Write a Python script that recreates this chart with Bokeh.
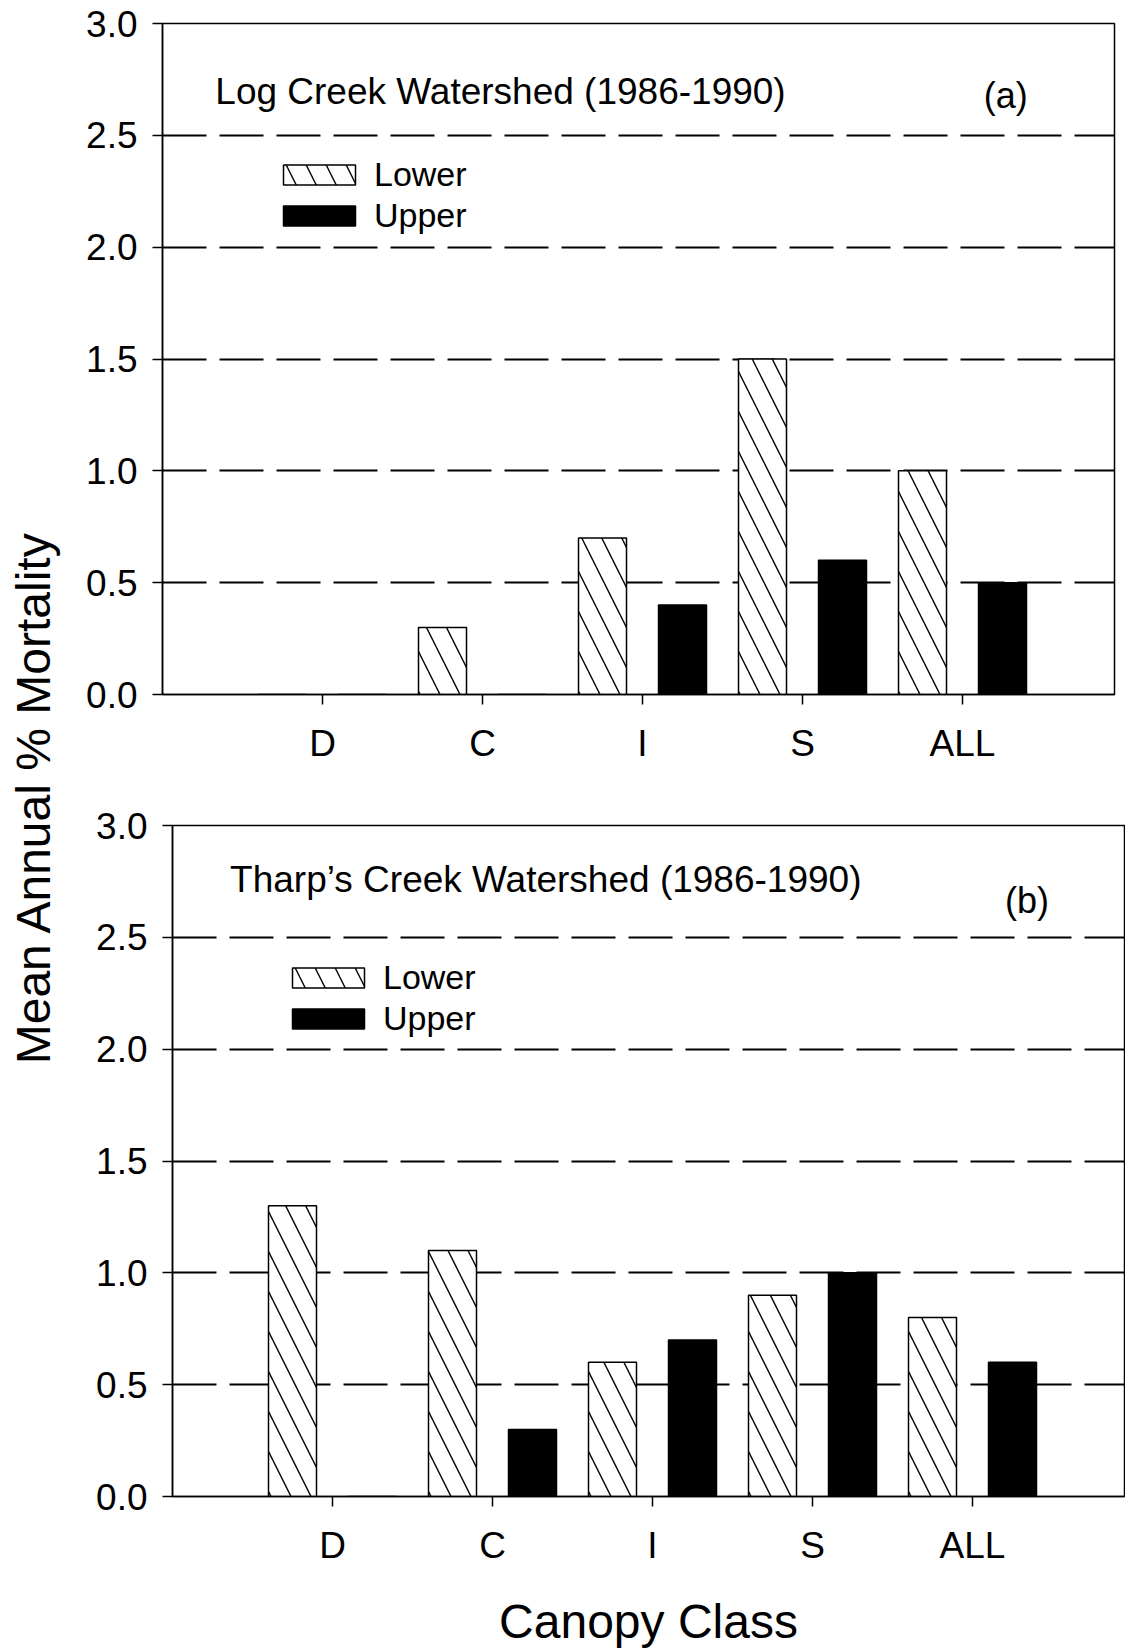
from math import pi
from bokeh.plotting import figure
from bokeh.layouts import row, column
from bokeh.models import (Range1d, FixedTicker, NumeralTickFormatter, Label,
                          Legend, LegendItem, ColumnDataSource)
from bokeh.embed import file_html
from bokeh.resources import INLINE

# ---------------- data ----------------
categories = ["D", "C", "I", "S", "ALL"]
log_lower = [0.0, 0.3, 0.7, 1.5, 1.0]
log_upper = [0.0, 0.0, 0.4, 0.6, 0.5]
tharp_lower = [1.3, 1.1, 0.6, 0.9, 0.8]
tharp_upper = [0.0, 0.3, 0.7, 1.0, 0.6]
y_ticks = [0.0, 0.5, 1.0, 1.5, 2.0, 2.5, 3.0]
series_names = ["Lower", "Upper"]
panel_titles = ["Log Creek Watershed (1986-1990)", "Tharp\u2019s Creek Watershed (1986-1990)"]
panel_tags = ["(a)", "(b)"]
y_label = "Mean Annual % Mortality"
x_label = "Canopy Class"

FONT = "Liberation Sans"
positions = list(range(1, len(categories) + 1))
OFFSET = 0.25
BAR_W = 0.3


def make_panel(lower, upper, title, tag, border_left, border_right, border_top,
               border_bottom, title_xy, tag_xy, legend_loc):
    p = figure(frame_width=952, frame_height=671,
               x_range=Range1d(0, 5.95), y_range=Range1d(0, 3),
               output_backend="svg", toolbar_location=None,
               min_border_left=border_left, min_border_right=border_right,
               min_border_top=border_top, min_border_bottom=border_bottom,
               background_fill_color="white", border_fill_color="white")
    p.frame_align = False
    src = ColumnDataSource(dict(
        xl=[x - OFFSET for x in positions],
        xu=[x + OFFSET for x in positions],
        lower=lower, upper=upper))
    r1 = p.vbar(x="xl", top="lower", width=BAR_W, source=src,
                fill_color="white", line_color="black", line_width=1.5,
                hatch_pattern="\\", hatch_color="black", hatch_scale=40,
                hatch_weight=1.4)
    r2 = p.vbar(x="xu", top="upper", width=BAR_W, source=src,
                fill_color="black", line_color="black", line_width=1.5)

    # axes
    p.yaxis.ticker = FixedTicker(ticks=y_ticks)
    p.yaxis.formatter = NumeralTickFormatter(format="0.0")
    p.xaxis.ticker = FixedTicker(ticks=positions)
    p.xaxis.major_label_overrides = {x: c for x, c in zip(positions, categories)}
    for ax in (p.xaxis, p.yaxis):
        ax.axis_line_color = "black"
        ax.axis_line_width = 1.5
        ax.major_tick_line_color = "black"
        ax.major_tick_line_width = 1.5
        ax.major_tick_out = 10
        ax.major_tick_in = 0
        ax.minor_tick_line_color = None
        ax.major_label_text_font = FONT
        ax.major_label_text_font_size = "37px"
        ax.major_label_text_color = "black"
    p.yaxis.major_label_standoff = 15
    p.xaxis.major_label_standoff = 18

    # grid
    p.xgrid.visible = False
    p.ygrid.grid_line_color = "black"
    p.ygrid.grid_line_width = 2
    p.ygrid.grid_line_dash = "44 13"

    p.outline_line_color = "black"
    p.outline_line_width = 1.5

    legend = Legend(items=[LegendItem(label=series_names[0], renderers=[r1]),
                           LegendItem(label=series_names[1], renderers=[r2])],
                    location=legend_loc, glyph_width=90, glyph_height=25,
                    label_standoff=10, spacing=2, padding=0, margin=0,
                    border_line_color=None, background_fill_alpha=0,
                    label_text_font=FONT, label_text_font_size="34px",
                    label_text_color="black", label_height=20)
    p.add_layout(legend)

    p.add_layout(Label(x=title_xy[0], y=title_xy[1], text=title, text_font=FONT,
                       text_font_size="37px", text_align="left",
                       text_baseline="middle", text_color="black"))
    p.add_layout(Label(x=tag_xy[0], y=tag_xy[1], text=tag, text_font=FONT,
                       text_font_size="36px", text_align="center",
                       text_baseline="middle", text_color="black"))
    return p


top = make_panel(log_lower, log_upper, panel_titles[0], panel_tags[0],
                 border_left=100, border_right=6, border_top=23, border_bottom=86,
                 title_xy=(0.33, 2.694), tag_xy=(5.27, 2.68),
                 legend_loc=(112, 459))
bottom = make_panel(tharp_lower, tharp_upper, panel_titles[1], panel_tags[1],
                    border_left=110, border_right=1, border_top=45, border_bottom=152,
                    title_xy=(0.36, 2.76), tag_xy=(5.34, 2.664),
                    legend_loc=(111, 458))
bottom.xaxis.axis_label = x_label
bottom.xaxis.axis_label_text_font = FONT
bottom.xaxis.axis_label_text_font_size = "48px"
bottom.xaxis.axis_label_text_font_style = "normal"
bottom.xaxis.axis_label_text_color = "black"
bottom.xaxis.axis_label_standoff = 26

LAB_W = 62
LAB_H = 1648
lab = figure(width=LAB_W, height=LAB_H, x_range=Range1d(0, 1), y_range=Range1d(0, 1),
             x_axis_location=None, y_axis_location=None, min_border=0,
             output_backend="svg", toolbar_location=None,
             outline_line_color=None)
lab.frame_align = False
for r in list(lab.center):
    r.visible = False
lab.add_layout(Label(x=33 / LAB_W, y=1 - 797 / LAB_H, text=y_label, text_font=FONT,
                     text_font_size="48px", angle=pi / 2, text_align="center",
                     text_baseline="middle", text_color="black"))

layout = row(lab, column(top, bottom))
open("out.html", "w").write(file_html(layout, INLINE))
